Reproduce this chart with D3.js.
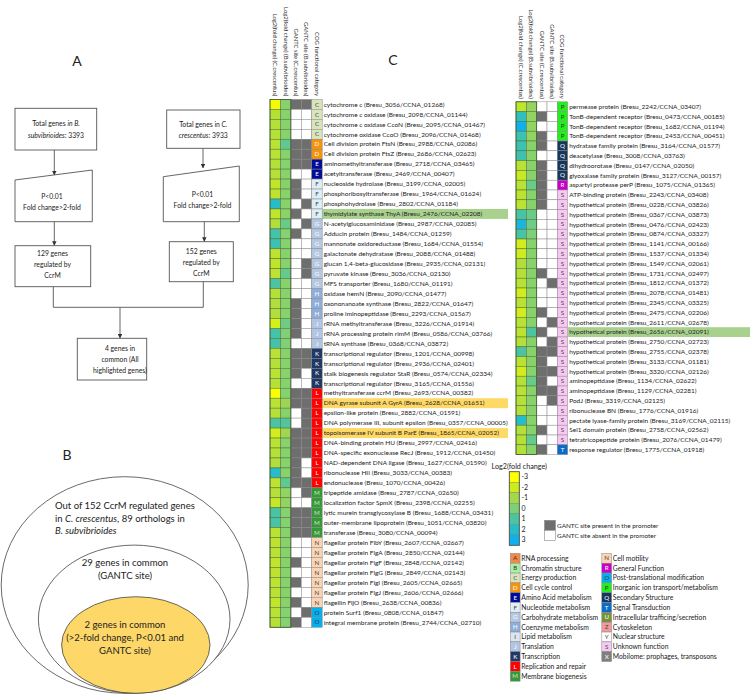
<!DOCTYPE html>
<html><head><meta charset="utf-8">
<script src="https://cdn.jsdelivr.net/npm/d3@7"></script>
<style>body{margin:0;background:#fff}svg{display:block}text{font-family:Lato,"Open Sans",sans-serif;fill:#222}</style>
</head><body><svg id="c" width="750" height="696"></svg>
<script>
// ---------------- DATA ----------------
const leftGenes = [
"cytochrome c (Bresu_3056/CCNA_01268)","cytochrome c oxidase (Bresu_2098/CCNA_01144)","cytochrome c oxidase CcoN (Bresu_2095/CCNA_01467)","cytochrome oxidase CcoO (Bresu_2096/CCNA_01468)",
"Cell division protein FtsN (Bresu_2988/CCNA_02086)","Cell division protein FtsZ (Bresu_2686/CCNA_02623)","aminomethyltransferase (Bresu_2718/CCNA_03465)","acetyltransferase (Bresu_2469/CCNA_00407)",
"nucleoside hydrolase (Bresu_3199/CCNA_02005)","phosphoribosyltransferase (Bresu_1964/CCNA_01624)","phosphohydrolase (Bresu_2802/CCNA_01184)","thymidylate synthase ThyA (Bresu_2476/CCNA_02208)",
"N-acetylglucosaminidase (Bresu_2987/CCNA_02085)","Adducin protein (Bresu_1484/CCNA_01259)","mannonate oxidoreductase (Bresu_1684/CCNA_01554)","galactonate dehydratase (Bresu_2088/CCNA_01488)",
"glucan 1,4-beta-glucosidase (Bresu_2935/CCNA_02131)","pyruvate kinase (Bresu_3036/CCNA_02130)","MFS transporter (Bresu_1680/CCNA_01191)","oxidase hemN (Bresu_2090/CCNA_01477)",
"oxononanoate synthase (Bresu_2822/CCNA_01647)","proline iminopeptidase (Bresu_2293/CCNA_01567)","rRNA methyltransferase (Bresu_3226/CCNA_01914)","rRNA processing protein rimM (Bresu_0586/CCNA_03766)",
"tRNA synthase (Bresu_0368/CCNA_03872)","transcriptional regulator (Bresu_1201/CCNA_00998)","transcriptional regulator (Bresu_2936/CCNA_02401)","stalk biogenesis regulator StaR (Bresu_0574/CCNA_02334)",
"transcriptional regulator (Bresu_3165/CCNA_01556)","methyltransferase ccrM (Bresu_2693/CCNA_00382)","DNA gyrase subunit A GyrA (Bresu_2628/CCNA_01651)","epsilon-like protein (Bresu_2882/CCNA_01591)",
"DNA polymerase III, subunit epsilon (Bresu_0357/CCNA_00005)","topoisomerase IV subunit B ParE (Bresu_1865/CCNA_02052)","DNA-binding protein HU (Bresu_2997/CCNA_02416)","DNA-specific exonuclease RecJ (Bresu_1912/CCNA_01450)",
"NAD-dependent DNA ligase (Bresu_1627/CCNA_01590)","ribonuclease HII (Bresu_3033/CCNA_00383)","endonuclease (Bresu_1070/CCNA_00426)","tripeptide amidase (Bresu_2787/CCNA_02650)",
"localization factor SpmX (Bresu_2398/CCNA_02255)","lytic murein transglycosylase B (Bresu_1688/CCNA_03431)","outer-membrane lipoprotein (Bresu_1051/CCNA_03820)","transferase (Bresu_3080/CCNA_00094)",
"flagellar protein FlbY (Bresu_2607/CCNA_02667)","flagellar protein FlgA (Bresu_2850/CCNA_02144)","flagellar protein FlgF (Bresu_2848/CCNA_02142)","flagellar protein FlgG (Bresu_2849/CCNA_02143)",
"flagellar protein FlgI (Bresu_2605/CCNA_02665)","flagellar protein FlgJ (Bresu_2606/CCNA_02666)","flagellin FljO (Bresu_2638/CCNA_00836)","protein Surf1 (Bresu_0808/CCNA_01847)",
"integral membrane protein (Bresu_2744/CCNA_02710)"];
const leftCog = "CCCCDDEEFFFFGGGGGGGHHHJJJKKKKLLLLLLLLLLMMMMMNNNNNNNOO".split("");
const leftFcC = [-2.8,-1.4,-1.4,-1.4,-1.5,-1.5,-1.4,-1.4,-1.7,-1.6,2.0,-1.7,-1.3,1.2,1.4,-1.6,-1.7,-1.6,1.0,-1.4,-1.3,-1.3,-2.2,1.2,1.2,-1.5,-1.4,-1.5,-1.4,-2.9,-1.5,-1.4,1.0,-2.1,-1.5,-1.4,-1.3,2.0,-1.6,-1.4,-1.8,1.1,1.1,-1.5,-1.6,-1.5,-1.7,-1.6,-1.6,-1.5,-1.7,-1.5,-1.4];
const leftFcB = [-0.3,-0.3,-0.3,-0.3,0.6,-0.3,-0.2,-0.3,-0.3,-0.3,-0.3,-0.4,0.4,-0.2,-0.2,-0.3,-0.3,0.5,-0.3,-0.3,-0.3,-0.3,0.3,-0.1,-0.1,-0.3,-0.3,-0.3,-0.3,-0.2,-0.8,-0.3,0.9,-0.9,-0.3,-0.3,-0.3,-0.3,0.6,-0.5,-0.5,-0.2,-0.2,-0.3,-0.3,-0.3,-0.3,-0.3,-0.3,-0.3,-0.3,-0.2,-0.2];
const leftGantcC = [1,0,0,0,1,1,1,0,1,1,0,1,0,1,0,0,0,0,0,0,1,1,1,1,0,1,1,1,0,1,1,0,0,1,1,1,1,1,1,0,0,1,1,1,0,0,1,0,1,0,1,0,1];
const leftGantcB = [1,0,0,0,1,1,1,0,0,0,1,0,1,0,0,0,1,1,0,0,0,0,0,0,0,1,1,0,0,1,1,1,1,1,1,1,0,0,1,1,0,1,1,1,0,0,0,0,0,0,0,1,0];
const leftHighlight = {11:"green",30:"orange",33:"orange"};

const rightGenes = [
"permease protein (Bresu_2242/CCNA_03407)","TonB-dependent receptor (Bresu_0473/CCNA_00185)","TonB-dependent receptor (Bresu_1682/CCNA_01194)","TonB-dependent receptor (Bresu_2453/CCNA_00451)",
"hydratase family protein (Bresu_3164/CCNA_01577)","deacetylase (Bresu_3008/CCNA_03763)","dihydroorotase (Bresu_0147/CCNA_02050)","glyoxalase family protein (Bresu_3127/CCNA_00157)",
"aspartyl protease perP (Bresu_1075/CCNA_01365)","ATP-binding protein (Bresu_2243/CCNA_03408)","hypothetical protein (Bresu_0228/CCNA_03826)","hypothetical protein (Bresu_0367/CCNA_03873)",
"hypothetical protein (Bresu_0476/CCNA_02423)","hypothetical protein (Bresu_0874/CCNA_03327)","hypothetical protein (Bresu_1141/CCNA_00166)","hypothetical protein (Bresu_1537/CCNA_01334)",
"hypothetical protein (Bresu_1549/CCNA_02061)","hypothetical protein (Bresu_1731/CCNA_02497)","hypothetical protein (Bresu_1812/CCNA_01372)","hypothetical protein (Bresu_2078/CCNA_01481)",
"hypothetical protein (Bresu_2345/CCNA_03325)","hypothetical protein (Bresu_2475/CCNA_02206)","hypothetical protein (Bresu_2611/CCNA_02678)","hypothetical protein (Bresu_2656/CCNA_02091)",
"hypothetical protein (Bresu_2750/CCNA_02723)","hypothetical protein (Bresu_2755/CCNA_02378)","hypothetical protein (Bresu_3133/CCNA_01181)","hypothetical protein (Bresu_3320/CCNA_02126)",
"aminopeptidase (Bresu_1134/CCNA_02622)","aminopeptidase (Bresu_1129/CCNA_02281)","PodJ (Bresu_3319/CCNA_02125)","ribonuclease BN (Bresu_1776/CCNA_01916)",
"pectate lyase-family protein (Bresu_3169/CCNA_02115)","Sel1 domain protein (Bresu_2758/CCNA_02562)","tetratricopeptide protein (Bresu_2076/CCNA_01479)","response regulator (Bresu_1775/CCNA_01918)"];
const rightCog = "PPPPQQQQRSSSSSSSSSSSSSSSSSSSSSSSSSST".split("");
const rightFcC = [-1.7,1.7,3.0,1.4,1.4,1.4,-1.5,-1.9,-1.5,-1.6,-1.6,1.1,2.5,1.1,-2.1,-2.0,-1.3,-1.4,-1.5,-2.1,-1.5,-2.1,-1.5,-1.6,-1.4,1.1,-1.5,-2.1,-1.4,-1.5,-1.4,-1.4,2.0,-1.4,-1.4,-1.4];
const rightFcB = [-0.6,-0.5,-0.5,-0.5,-0.3,-0.3,-0.3,-0.3,0.4,-0.3,-0.3,0.4,0.3,0.0,-0.3,-0.3,-0.3,-0.3,-0.3,-0.3,-0.3,-0.3,-0.3,1.0,-0.3,-0.3,-0.3,-0.3,0.4,-0.3,-0.3,-0.3,-0.3,-0.3,0.5,-0.3];
const rightGantcC = [0,1,0,1,1,0,1,1,1,1,1,0,0,0,0,0,0,1,0,0,0,1,0,1,0,1,1,1,1,1,0,0,0,1,0,1];
const rightGantcB = [0,0,0,0,0,0,0,0,0,0,0,0,0,0,0,0,0,0,1,0,0,0,1,0,1,1,0,1,0,1,1,0,0,0,0,0];
const rightHighlight = {23:"green"};

const columnHeaders = ["Log2(fold change) (C.crescentus)","Log2(fold change) (B.subvibrioides)","GANTC site (C.crescentus)","GANTC site (B.subvibrioides)","COG functional category"];
const legendTicks = [-3,-2,-1,0,1,2,3];
const cogLegendLeft = [["A","RNA processing"],["B","Chromatin structure"],["C","Energy production"],["D","Cell cycle control"],["E","Amino Acid metabolism"],["F","Nucleotide metabolism"],["G","Carbohydrate metabolism"],["H","Coenzyme metabolism"],["I","Lipid metabolism"],["J","Translation"],["K","Transcription"],["L","Replication and repair"],["M","Membrane biogenesis"]];
const cogLegendRight = [["N","Cell motility"],["R","General Function"],["O","Post-translational modification"],["P","Inorganic ion transport/metabolism"],["Q","Secondary Structure"],["T","Signal Transduction"],["U","Intracellular trafficing/secretion"],["Z","Cytoskeleton"],["Y","Nuclear structure"],["S","Unknown function"],["X","Mobilome: prophages, transposons"]];

// ---------------- STYLE ----------------
const cogColor = {A:"#f08a4b",B:"#a8f0a8",C:"#d8e4bc",D:"#f7930a",E:"#000b96",F:"#ddeef6",G:"#b4c8e2",H:"#8eaedb",I:"#dce6f1",J:"#b2c6e4",K:"#1f3864",L:"#ff0000",M:"#339a35",N:"#fcd4b4",R:"#c800c8",O:"#00b0f0",P:"#22f01a",Q:"#16365c",T:"#0a6cc8",U:"#76923c",Z:"#f29a9a",Y:"#ffffff",S:"#f8c8f4",X:"#7f7f7f"};
const cogText = {A:"#333",B:"#333",C:"#444",D:"#fff",E:"#fff",F:"#444",G:"#fff",H:"#fff",I:"#444",J:"#fff",K:"#fff",L:"#fff",M:"#ddd",N:"#444",R:"#fff",O:"#333",P:"#333",Q:"#fff",T:"#fff",U:"#fff",Z:"#444",Y:"#444",S:"#444",X:"#fff"};
const hlColor = {green:"#a9d18e",orange:"#ffd966"};
const fcColor = d3.scaleLinear().domain(legendTicks)
  .range(["#ffff00","#cdeb1e","#a5d84a","#7cd07a","#4cc4a2","#26bccb","#10b0f0"]).clamp(true);
const gantcColor = v => v ? "#6e6e6e" : "#ffffff";

const svg = d3.select("#c");

// ---------------- HEATMAPS ----------------
function heatmap(o){
  const n = o.genes.length;
  const y = d3.scaleBand().domain(d3.range(n)).range([o.top, o.top + n*o.rowH]);
  const x = d3.scaleBand().domain(d3.range(5)).range([o.left, o.right]);
  const g = svg.append("g");
  Object.entries(o.hl).forEach(([i,c])=>{
    g.append("rect").attr("x",o.right).attr("y",y(+i)).attr("width",o.hlEnd-o.right).attr("height",y.bandwidth()).attr("fill",hlColor[c]);
  });
  const rows = d3.range(n).map(i=>[
    {c:0,fill:fcColor(o.fcC[i])},{c:1,fill:fcColor(o.fcB[i])},
    {c:2,fill:gantcColor(o.gC[i])},{c:3,fill:gantcColor(o.gB[i])},
    {c:4,fill:cogColor[o.cog[i]],letter:o.cog[i]}].map(d=>Object.assign(d,{r:i}))).flat();
  g.selectAll("rect.cell").data(rows).join("rect").attr("class","cell")
    .attr("x",d=>x(d.c)).attr("y",d=>y(d.r)).attr("width",x.bandwidth()).attr("height",y.bandwidth())
    .attr("fill",d=>d.fill).attr("stroke",d=>d.c<2?"#4f6e3a":"#8a8a8a").attr("stroke-width",0.5);
  g.selectAll("text.cog").data(rows.filter(d=>d.c===4)).join("text")
    .attr("x",x(4)+x.bandwidth()/2).attr("y",d=>y(d.r)+y.bandwidth()/2).attr("dy","0.35em")
    .attr("text-anchor","middle").attr("font-size",6.2).style("fill",d=>cogText[d.letter]).text(d=>d.letter);
  g.append("rect").attr("x",o.left).attr("y",o.top).attr("width",x(2)-o.left).attr("height",n*o.rowH)
    .attr("fill","none").attr("stroke","#3e5a2e").attr("stroke-width",0.8);
  g.selectAll("text.lab").data(o.genes).join("text")
    .attr("x",o.right+1.5).attr("y",(d,i)=>y(i)+y.bandwidth()/2).attr("dy","0.35em")
    .attr("font-size",6.5).text(d=>d);
  g.selectAll("text.hdr").data(columnHeaders).join("text")
    .attr("transform",(d,i)=>`translate(${x(i)+x.bandwidth()/2-2.1},${o.top-3}) rotate(90)`)
    .attr("text-anchor","end").attr("font-size",5.9).style("fill","#333").text(d=>d);
}
heatmap({genes:leftGenes,cog:leftCog,fcC:leftFcC,fcB:leftFcB,gC:leftGantcC,gB:leftGantcB,hl:leftHighlight,
  left:270,right:322.2,top:99.4,rowH:9.96,hlEnd:508});
heatmap({genes:rightGenes,cog:rightCog,fcC:rightFcC,fcB:rightFcB,gC:rightGantcC,gB:rightGantcB,hl:rightHighlight,
  left:516,right:567.7,top:101.8,rowH:9.8,hlEnd:750});

// ---------------- LEGENDS ----------------
svg.append("text").attr("x",491.5).attr("y",466.7).attr("dy","0.35em").attr("font-size",7.2).text("Log2(fold change)");
const ly = d3.scaleBand().domain(legendTicks).range([471.7,545.3]);
const lg = svg.append("g");
lg.selectAll("rect").data(legendTicks).join("rect").attr("x",509.3).attr("y",d=>ly(d)).attr("width",10).attr("height",ly.bandwidth())
  .attr("fill",d=>fcColor(d)).attr("stroke","#6a8a50").attr("stroke-width",0.4);
lg.append("rect").attr("x",509.3).attr("y",471.7).attr("width",10).attr("height",73.6).attr("fill","none").attr("stroke","#555").attr("stroke-width",0.9);
lg.selectAll("text").data(legendTicks).join("text").attr("x",521.5).attr("y",d=>ly(d)+ly.bandwidth()/2).attr("dy","0.35em")
  .attr("font-size",7).text(d=>d);

const gl = svg.append("g");
[[1,"GANTC site present in the promoter"],[0,"GANTC site absent in the promoter"]].forEach((d,i)=>{
  gl.append("rect").attr("x",544.5).attr("y",520.3+i*10).attr("width",11).attr("height",10).attr("fill",gantcColor(d[0])).attr("stroke","#888").attr("stroke-width",0.6);
  gl.append("text").attr("x",557).attr("y",525.3+i*10).attr("dy","0.35em").attr("font-size",6.4).text(d[1]);
});

function cogLegend(items,bx){
  const yy = d3.scaleBand().domain(d3.range(items.length)).range([553.4,553.4+items.length*9.83]);
  const g = svg.append("g");
  g.selectAll("rect").data(items).join("rect").attr("x",bx).attr("y",(d,i)=>yy(i)).attr("width",9.8).attr("height",yy.bandwidth())
    .attr("fill",d=>cogColor[d[0]]).attr("stroke","#888").attr("stroke-width",0.5);
  g.selectAll("text.l").data(items).join("text").attr("x",bx+4.9).attr("y",(d,i)=>yy(i)+yy.bandwidth()/2).attr("dy","0.35em")
    .attr("text-anchor","middle").attr("font-size",6.2).style("fill",d=>cogText[d[0]]).text(d=>d[0]);
  g.selectAll("text.n").data(items).join("text").attr("x",bx+11).attr("y",(d,i)=>yy(i)+yy.bandwidth()/2).attr("dy","0.35em")
    .attr("font-size",6.8).text(d=>d[1]);
}
cogLegend(cogLegendLeft,510.3);
cogLegend(cogLegendRight,601.8);

// ---------------- PANEL LETTERS ----------------
[["A",77,61.5],["C",393,60.5],["B",67,455]].forEach(d=>{
  svg.append("text").attr("x",d[1]).attr("y",d[2]).attr("dy","0.35em").attr("text-anchor","middle").attr("font-size",14).text(d[0]);
});

// ---------------- PANEL A : flowchart ----------------
const fa = svg.append("g").attr("fill","none").attr("stroke","#555").attr("stroke-width",0.9);
svg.append("defs").html('<marker id="ar" viewBox="0 0 6 6" refX="5.5" refY="3" markerWidth="5" markerHeight="5" orient="auto"><path d="M0,0L6,3L0,6z" fill="#333"/></marker>');
fa.append("rect").attr("x",15).attr("y",108.3).attr("width",81.7).attr("height",41.7);
fa.append("rect").attr("x",166.7).attr("y",110).attr("width",73.3).attr("height",38.3);
fa.append("path").attr("d","M15,180L92.3,170L92.3,221.7L15,221.7Z");
fa.append("path").attr("d","M163.3,176.7L239.3,166L239.3,221.7L163.3,221.7Z");
fa.append("rect").attr("x",15).attr("y",245.7).attr("width",75.7).attr("height",41);
fa.append("rect").attr("x",169.3).attr("y",241.7).attr("width",64).attr("height",40);
fa.append("rect").attr("x",77.3).attr("y",338.3).attr("width",69.4).attr("height",41.7);
const arrows = [[54.3,150,54.3,175],[203,148.3,203,168],[54.3,221.7,54.3,245.3],[204.3,221.7,204.3,241.3],[120,307.3,120,338]];
arrows.forEach(a=>fa.append("line").attr("x1",a[0]).attr("y1",a[1]).attr("x2",a[2]).attr("y2",a[3]).attr("marker-end","url(#ar)"));
fa.append("path").attr("d","M53.3,286.7V307.3H203.3V281.7");

function lines(x,ys,parts,fs){
  parts.forEach((p,i)=>{
    const t = svg.append("text").attr("x",x).attr("y",ys[i]).attr("dy","0.35em").attr("text-anchor","middle").attr("font-size",fs);
    p.forEach(s=>t.append("tspan").attr("font-style",s[1]?"italic":null).text(s[0]));
  });
}
lines(56,[123.3,135.3],[[["Total genes ",0],["in B.",1]],[["subvibrioides",1],[": 3393",0]]],6.8);
lines(203.3,[124.3,135.3],[[["Total genes in ",0],["C.",1]],[["crescentus",1],[": 3933",0]]],6.8);
lines(52,[196.7,207.7],[[["P<0.01",0]],[["Fold change>2-fold",0]]],6.8);
lines(202.5,[194.3,205.3],[[["P<0.01",0]],[["Fold change>2-fold",0]]],6.8);
lines(52.5,[253.6,264.4,275.2],[[["129 genes",0]],[["regulated by",0]],[["CcrM",0]]],6.8);
lines(201.3,[251.7,262.5,273.3],[[["152 genes",0]],[["regulated by",0]],[["CcrM",0]]],6.8);
lines(120,[348.5,359.5,370.5],[[["4 genes in",0]],[["common (All",0]],[["highlighted genes)",0]]],6.8);

// ---------------- PANEL B : nested ellipses ----------------
const fb = svg.append("g").attr("stroke","#444").attr("stroke-width",0.8);
fb.append("ellipse").attr("cx",124.7).attr("cy",585).attr("rx",123.5).attr("ry",108.3).attr("fill","#fff");
fb.append("ellipse").attr("cx",134.2).attr("cy",619.2).attr("rx",95.8).attr("ry",74.1).attr("fill","#fff");
fb.append("ellipse").attr("cx",135.8).attr("cy",645).attr("rx",74.2).attr("ry",48.3).attr("fill","#fdd768");
const bt = [[["Out of 152 CcrM regulated genes",0]],[["in ",0],["C. crescentus",1],[", 89 orthologs in",0]],[["B. subvibrioides",1]]];
bt.forEach((p,i)=>{
  const t = svg.append("text").attr("x",55).attr("y",505.7+i*12.7).attr("dy","0.35em").attr("font-size",9.5);
  p.forEach(s=>t.append("tspan").attr("font-style",s[1]?"italic":null).text(s[0]));
});
lines(125,[562.7,575.7],[[["29 genes in common",0]],[["(GANTC site)",0]]],9.5);
lines(125,[624.3,637.3,650.3],[[["2 genes in common",0]],[["(>2-fold change, P<0.01 and",0]],[["GANTC site)",0]]],9.5);
</script></body></html>
